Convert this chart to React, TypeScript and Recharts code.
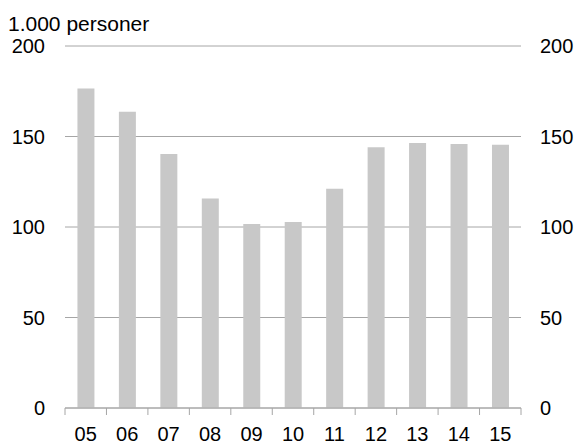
import { ComposedChart, Bar, Line, XAxis, YAxis, CartesianGrid } from "recharts";

const years = ["05", "06", "07", "08", "09", "10", "11", "12", "13", "14", "15"];
const persons = [176.5, 163.7, 140.3, 115.8, 101.7, 102.8, 121.2, 144, 146.4, 145.9, 145.5];
const yTicks = [0, 50, 100, 150, 200];

const data = years.map((year, i) => ({ year, value: persons[i] }));

const FONT = '"Liberation Sans", Arial, sans-serif';
const AXIS_GRAY = "#a6a6a6";

const YearTick = (props: any) => {
  const { x, y, payload, index } = props;
  const half = payload && payload.offset ? payload.offset : 456 / 11 / 2;
  const last = index === years.length - 1;
  return (
    <g>
      <line x1={x - half} y1={y} x2={x - half} y2={y + 7} stroke={AXIS_GRAY} strokeWidth={1} />
      {last && <line x1={x + half} y1={y} x2={x + half} y2={y + 7} stroke={AXIS_GRAY} strokeWidth={1} />}
      <text x={x} y={y + 18.5} dy="0.71em" textAnchor="middle" fontSize={20} fontFamily={FONT} fill="#000">
        {payload.value}
      </text>
    </g>
  );
};

const RightTick = (props: any) => {
  const { x, y, payload } = props;
  return (
    <text x={x} y={y} dy="0.355em" textAnchor="start" fontSize={20} fontFamily={FONT} fill="#000">
      {payload.value}
    </text>
  );
};

const App = () => {
  return (
    <div style={{ position: "absolute", left: 0, top: 0, width: 577, height: 444, background: "#fff" }}>
      <div
        style={{
          position: "absolute",
          left: 8,
          top: 13,
          fontFamily: FONT,
          fontSize: 21,
          lineHeight: 1,
          color: "#000",
        }}
      >
        1.000 personer
      </div>
      <ComposedChart width={577} height={444} data={data} margin={{ top: 46, right: 0, bottom: 0, left: 0 }} barCategoryGap="30%">
        <CartesianGrid vertical={false} stroke={AXIS_GRAY} strokeWidth={1} yAxisId="left" />
        <XAxis
          dataKey="year"
          height={36}
          axisLine={{ stroke: AXIS_GRAY, strokeWidth: 1 }}
          tickLine={false}
          tickSize={0}
          tickMargin={0}
          interval={0}
          tick={<YearTick />}
        />
        <YAxis
          yAxisId="left"
          orientation="left"
          width={65}
          domain={[0, 200]}
          ticks={yTicks}
          axisLine={false}
          tickLine={false}
          tickSize={0}
          tickMargin={20}
          tick={{ fontSize: 20, fontFamily: FONT, fill: "#000" }}
        />
        <YAxis
          yAxisId="right"
          orientation="right"
          width={56}
          domain={[0, 200]}
          ticks={yTicks}
          axisLine={false}
          tickLine={false}
          tickSize={0}
          tickMargin={19}
          tick={<RightTick />}
        />
        <Bar yAxisId="left" dataKey="value" fill="#c8c8c8" isAnimationActive={false} />
        <Line
          yAxisId="right"
          dataKey="value"
          stroke="none"
          dot={false}
          activeDot={false}
          legendType="none"
          isAnimationActive={false}
        />
      </ComposedChart>
    </div>
  );
};

export default App;
